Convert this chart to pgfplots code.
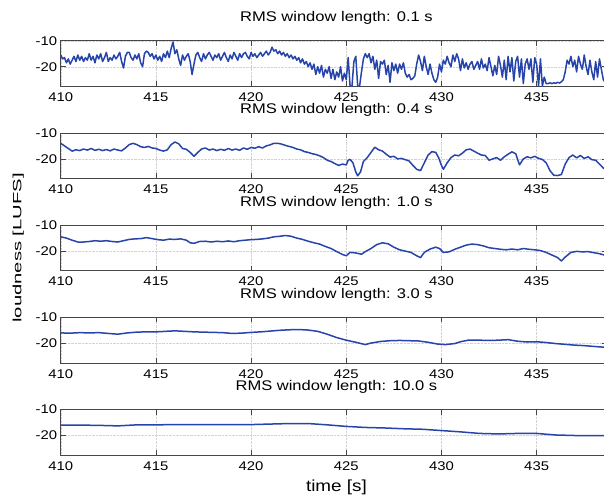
\documentclass[border=0pt]{standalone}
\usepackage{fontspec}
\setmainfont{Liberation Sans}[FakeStretch=1.18]
\usepackage{graphicx}
\usepackage{pgfplots}
\pgfplotsset{compat=1.18}

\definecolor{lineblue}{RGB}{38,68,170}
\definecolor{axgray}{RGB}{70,70,70}

\pgfplotsset{
  panel/.style={
    scale only axis, width=546pt, height=45.5pt, anchor=south west,
    xmin=410, xmax=438.68, ymin=-27.5, ymax=-10,
    xtick={410,415,...,435}, ytick={-20,-10}, yticklabels={-20,-10},
    tick align=inside, major tick length=5pt,
    grid=major, major grid style={densely dotted, gray!35, line width=0.4pt},
    axis line style={axgray, line width=0.6pt}, every tick/.style={axgray, line width=0.6pt},
    tick label style={font=\fontsize{12.6}{14}\selectfont},
    /pgf/number format/assume math mode=true,
    xticklabel style={yshift=-3pt},
    title style={at={(axis description cs:0.505,1)}, anchor=base, yshift=13pt,
      font=\fontsize{14}{16}\selectfont},
  },
  curve/.style={lineblue, line width=1.5pt, line join=round, mark=none},
}

\begin{document}
\begin{tikzpicture}

% 0.1 s
\begin{axis}[panel, at={(60.7pt,-86.2pt)}, title={RMS window length: 0.1 s}]
\addplot[curve] coordinates {
(410.0,-15.5) (410.1,-17) (410.2,-16.5) (410.3,-18.5) (410.4,-17) (410.5,-19) (410.6,-17.5) (410.7,-16) (410.8,-18) (410.9,-15.5)
(411.0,-17.5) (411.1,-16) (411.2,-18) (411.3,-16.5) (411.4,-17.5) (411.5,-15) (411.6,-17.5) (411.7,-16) (411.8,-18.5) (411.9,-15.5)
(412.0,-17) (412.1,-15) (412.2,-18) (412.3,-16.5) (412.4,-14.5) (412.5,-18) (412.6,-16.5) (412.7,-17.5) (412.8,-15.5) (412.9,-17)
(413.0,-16) (413.1,-14.5) (413.2,-18) (413.3,-20.5) (413.4,-16) (413.5,-14.5) (413.6,-14.5) (413.7,-16.5) (413.8,-17.5) (413.9,-15.5)
(414.0,-17) (414.1,-15) (414.2,-18.5) (414.3,-20) (414.4,-15) (414.5,-14) (414.6,-14.5) (414.7,-16) (414.8,-15) (414.9,-17)
(415.0,-15.5) (415.1,-17.5) (415.2,-16) (415.3,-18) (415.4,-15) (415.5,-16.5) (415.6,-14) (415.7,-16.5) (415.8,-13) (415.9,-10.5)
(416.0,-15) (416.1,-13.5) (416.2,-17) (416.3,-19.5) (416.4,-15.5) (416.5,-17.5) (416.6,-16) (416.7,-15) (416.8,-18) (416.9,-23)
(417.0,-19) (417.1,-15.5) (417.2,-14.5) (417.3,-16.5) (417.4,-18) (417.5,-15) (417.6,-17) (417.7,-15.5) (417.8,-14.5) (417.9,-16)
(418.0,-17.5) (418.1,-15.5) (418.2,-16.5) (418.3,-15) (418.4,-17.5) (418.5,-16) (418.6,-14.5) (418.7,-16.5) (418.8,-18) (418.9,-15.5)
(419.0,-17) (419.1,-14.5) (419.2,-16) (419.3,-17.5) (419.4,-15) (419.5,-16.5) (419.6,-15) (419.7,-14.5) (419.8,-16) (419.9,-17)
(420.0,-14.5) (420.1,-16) (420.2,-15) (420.3,-16.5) (420.4,-15.5) (420.5,-14.5) (420.6,-16) (420.7,-15) (420.8,-14) (420.9,-15.5)
(421.0,-14.5) (421.1,-12.5) (421.2,-14) (421.3,-13.5) (421.4,-15) (421.5,-14) (421.6,-15.5) (421.7,-14.5) (421.8,-16) (421.9,-15)
(422.0,-16.5) (422.1,-15.5) (422.2,-17) (422.3,-16) (422.4,-17.5) (422.5,-16.5) (422.6,-18.5) (422.7,-17) (422.8,-19) (422.9,-18)
(423.0,-20) (423.1,-18.5) (423.2,-21) (423.3,-19) (423.4,-23) (423.5,-20) (423.6,-22.5) (423.7,-19.5) (423.8,-24) (423.9,-21)
(424.0,-22.5) (424.1,-20) (424.2,-24.5) (424.3,-21) (424.4,-25) (424.5,-22) (424.6,-24) (424.7,-20) (424.8,-25.5) (424.9,-22.5)
(425.0,-25) (425.1,-16.5) (425.2,-27.5) (425.3,-27.5) (425.4,-18) (425.5,-16) (425.6,-27.5) (425.7,-27.5) (425.8,-22) (425.9,-17)
(426.0,-15) (426.1,-16.5) (426.2,-15) (426.3,-18.5) (426.4,-16) (426.5,-21) (426.6,-17.5) (426.7,-24.5) (426.8,-18) (426.9,-19)
(427.0,-17.5) (427.1,-23) (427.2,-19.5) (427.3,-26) (427.4,-18.5) (427.5,-21.5) (427.6,-19) (427.7,-22.5) (427.8,-19) (427.9,-21)
(428.0,-18.5) (428.1,-22.5) (428.2,-24) (428.3,-23) (428.4,-25) (428.5,-24.5) (428.6,-23.5) (428.7,-19) (428.8,-15.5) (428.9,-18)
(429.0,-21.5) (429.1,-16) (429.2,-20) (429.3,-23) (429.4,-19) (429.5,-22.5) (429.6,-25) (429.7,-26) (429.8,-24) (429.9,-19)
(430.0,-22) (430.1,-17.5) (430.2,-19) (430.3,-16) (430.4,-18.5) (430.5,-20) (430.6,-15.5) (430.7,-18) (430.8,-15) (430.9,-17)
(431.0,-21.5) (431.1,-17) (431.2,-20.5) (431.3,-18.5) (431.4,-21) (431.5,-19) (431.6,-18) (431.7,-21) (431.8,-19.5) (431.9,-18)
(432.0,-21) (432.1,-17) (432.2,-20.5) (432.3,-19) (432.4,-21.5) (432.5,-16.5) (432.6,-20) (432.7,-23.5) (432.8,-19.5) (432.9,-23)
(433.0,-16) (433.1,-19.5) (433.2,-24) (433.3,-17.5) (433.4,-25) (433.5,-16) (433.6,-22) (433.7,-16.5) (433.8,-25.5) (433.9,-18)
(434.0,-16) (434.1,-24) (434.2,-17) (434.3,-26.5) (434.4,-19) (434.5,-17) (434.6,-21) (434.7,-17) (434.8,-26) (434.9,-16.5)
(435.0,-19) (435.1,-27.5) (435.2,-17) (435.3,-27.5) (435.4,-24) (435.5,-26.5) (435.6,-26.5) (435.7,-26.2) (435.8,-26.5) (435.9,-26.2)
(436.0,-26.4) (436.1,-26) (436.2,-26.3) (436.3,-25.8) (436.4,-25) (436.5,-22) (436.6,-17.5) (436.7,-19) (436.8,-16) (436.9,-20)
(437.0,-17.5) (437.1,-22) (437.2,-16) (437.3,-19) (437.4,-21) (437.5,-15.5) (437.6,-20) (437.7,-23) (437.8,-17.5) (437.9,-22)
(438.0,-25) (438.1,-18) (438.2,-24) (438.3,-17) (438.4,-21) (438.5,-25) (438.6,-26) (438.7,-26.5)
};
\end{axis}

% 0.4 s
\begin{axis}[panel, at={(60.7pt,-178.4pt)}, title={RMS window length: 0.4 s}]
\addplot[curve] coordinates {
(410.0,-14) (410.2,-15) (410.4,-16) (410.6,-17) (410.8,-16.5) (411.0,-16.8) (411.2,-16.2) (411.4,-16.6) (411.6,-16) (411.8,-16.7)
(412.0,-16.3) (412.2,-16.8) (412.4,-16.4) (412.6,-16.9) (412.8,-16.2) (413.0,-16.6) (413.2,-16.9) (413.4,-15.8) (413.6,-14.5) (413.8,-14)
(414.0,-14.5) (414.2,-15.3) (414.4,-15.6) (414.6,-15.2) (414.8,-15.8) (415.0,-16) (415.2,-16.6) (415.4,-17) (415.6,-16.5) (415.8,-14.5)
(416.0,-13.5) (416.2,-14.2) (416.4,-16) (416.6,-16.3) (416.8,-17.5) (417.0,-19) (417.2,-17.5) (417.4,-16.2) (417.6,-15.8) (417.8,-16.6)
(418.0,-16.2) (418.2,-16.8) (418.4,-16.3) (418.6,-16.7) (418.8,-16) (419.0,-16.6) (419.2,-16.2) (419.4,-16.7) (419.6,-15.8) (419.8,-16.3)
(420.0,-15.6) (420.2,-15.9) (420.4,-15.3) (420.6,-15.8) (420.8,-15) (421.0,-14.6) (421.2,-14) (421.4,-14) (421.6,-14.3) (421.8,-14.8)
(422.0,-15.2) (422.2,-15.6) (422.4,-16.2) (422.6,-16.5) (422.8,-17.2) (423.0,-17.5) (423.2,-18) (423.4,-18.3) (423.6,-18.8) (423.8,-19.5)
(424.0,-20.5) (424.2,-21) (424.4,-21.8) (424.6,-22.5) (424.8,-22) (425.0,-22.3) (425.1,-20.5) (425.2,-20.2) (425.35,-21.5) (425.5,-25)
(425.6,-26.5) (425.75,-25) (425.9,-21) (426.1,-19.5) (426.3,-17.5) (426.5,-15.5) (426.7,-16.5) (426.9,-17) (427.1,-18.2) (427.3,-19.3)
(427.5,-19) (427.7,-20) (427.9,-19.8) (428.1,-20.3) (428.3,-20.8) (428.5,-22.5) (428.7,-24) (428.9,-24.5) (429.1,-21.5) (429.3,-18.5)
(429.5,-17.2) (429.7,-17.5) (429.85,-19.5) (430.0,-22.5) (430.1,-24) (430.3,-21.5) (430.5,-19.5) (430.7,-18.5) (430.9,-18.8) (431.1,-17.8)
(431.3,-16.5) (431.5,-16.2) (431.7,-17) (431.9,-17.8) (432.1,-18.5) (432.3,-18.7) (432.5,-20.5) (432.7,-20) (432.9,-19.5) (433.1,-20.5)
(433.3,-19.2) (433.5,-18.2) (433.7,-17.3) (433.9,-18) (434.1,-22.3) (434.3,-20) (434.5,-19.2) (434.7,-19.6) (434.9,-19) (435.1,-19.8)
(435.3,-20.2) (435.5,-21.5) (435.7,-24.5) (435.9,-26.3) (436.1,-26.4) (436.3,-26) (436.5,-22) (436.7,-19.5) (436.9,-18.5) (437.1,-19.6)
(437.3,-18.7) (437.5,-19.8) (437.7,-19.2) (437.9,-20.3) (438.1,-20.5) (438.3,-22) (438.5,-23.5) (438.7,-24.5)
};
\end{axis}

% 1.0 s
\begin{axis}[panel, at={(60.7pt,-270.6pt)}, title={RMS window length: 1.0 s},
  ylabel={\scalebox{1.43}[1]{loudness [LUFS]}},
  ylabel style={at={(axis description cs:-0.0777,0.5)}, anchor=center,
    font=\fontsize{12}{14}\selectfont}]
\addplot[curve] coordinates {
(410.0,-14.5) (410.3,-15) (410.6,-15.8) (410.9,-16.5) (411.2,-16.5) (411.5,-16.3) (411.8,-16) (412.1,-16.2) (412.4,-16) (412.7,-16.3)
(413.0,-16.5) (413.3,-16) (413.6,-15.5) (413.9,-15.3) (414.2,-15.2) (414.5,-14.8) (414.8,-15.2) (415.1,-15.6) (415.4,-15.8) (415.7,-15.4)
(416.0,-15.5) (416.3,-15.3) (416.6,-15.8) (416.8,-16.8) (417.0,-17) (417.3,-16.3) (417.6,-16.2) (417.9,-16.5) (418.2,-16.2) (418.5,-16.4)
(418.8,-16.1) (419.1,-16.4) (419.4,-16) (419.7,-15.8) (420.0,-15.6) (420.3,-15.5) (420.6,-15.3) (420.9,-15) (421.2,-14.5) (421.5,-14.3)
(421.8,-14) (422.1,-14.3) (422.4,-15) (422.7,-15.5) (423.0,-16.2) (423.3,-16.8) (423.6,-17.3) (423.9,-18.2) (424.2,-19) (424.5,-20.2)
(424.8,-21.3) (425.0,-21.8) (425.2,-20.5) (425.5,-20.7) (425.8,-21.2) (426.0,-20.2) (426.3,-19) (426.6,-17.5) (426.9,-16.8) (427.2,-17.2)
(427.5,-18.5) (427.8,-19.5) (428.1,-20) (428.4,-20.5) (428.7,-21.8) (428.9,-22.5) (429.1,-20.5) (429.4,-19.2) (429.7,-18.5) (429.9,-19)
(430.1,-20.5) (430.4,-20.3) (430.7,-19.3) (431.0,-18.5) (431.3,-17.7) (431.6,-17.3) (431.9,-17.5) (432.2,-18) (432.5,-18.7) (432.8,-19)
(433.1,-19.3) (433.4,-19.5) (433.7,-19.2) (434.0,-19.5) (434.3,-19) (434.6,-19.3) (434.9,-19.5) (435.2,-19.8) (435.5,-20.5) (435.8,-21.5)
(436.1,-22.5) (436.3,-23.8) (436.5,-22.3) (436.8,-20.5) (437.1,-20.1) (437.4,-20.3) (437.7,-20.2) (438.0,-20.6) (438.3,-21) (438.7,-21.8)
};
\end{axis}

% 3.0 s
\begin{axis}[panel, at={(60.7pt,-362.8pt)}, title={RMS window length: 3.0 s}]
\addplot[curve] coordinates {
(410.0,-16) (410.5,-16.1) (411.0,-15.9) (411.5,-16) (412.0,-15.9) (412.5,-16.2) (413.0,-16.5) (413.5,-16) (414.0,-15.7) (414.5,-15.6)
(415.0,-15.6) (415.5,-15.4) (416.0,-15.2) (416.5,-15.4) (417.0,-15.6) (417.5,-15.7) (418.0,-15.8) (418.5,-15.9) (419.0,-16.2) (419.5,-16.1)
(420.0,-15.8) (420.5,-15.6) (421.0,-15.3) (421.5,-15) (422.0,-14.8) (422.5,-14.7) (423.0,-14.9) (423.5,-15.4) (424.0,-16.5) (424.5,-17.8)
(425.0,-18.8) (425.5,-19.6) (426.0,-20.5) (426.3,-19.9) (426.8,-19.3) (427.3,-19) (427.8,-18.9) (428.3,-19) (428.8,-19.1) (429.3,-19.6)
(429.8,-20.3) (430.2,-20.5) (430.7,-20.1) (431.0,-19.4) (431.4,-18.8) (432.0,-18.8) (432.5,-18.9) (433.0,-18.8) (433.5,-18.6) (434.0,-19.2)
(434.5,-19.5) (435.0,-19.4) (435.5,-19.7) (436.0,-20.1) (436.5,-20.4) (437.0,-20.7) (437.5,-20.9) (438.0,-21.2) (438.7,-21.6)
};
\end{axis}

% 10.0 s
\begin{axis}[panel, at={(60.7pt,-455pt)}, title={RMS window length: 10.0 s},
  xlabel={time [s]},
  xlabel style={at={(axis description cs:0.505,0)}, anchor=base, yshift=-36pt,
    font=\fontsize{16}{18}\selectfont}]
\addplot[curve] coordinates {
(410,-16) (411,-16) (412,-16.1) (413,-16.3) (414,-15.9) (415,-15.9) (416,-15.8) (417,-15.8) (418,-15.8) (419,-15.8)
(420,-15.8) (421,-15.6) (422,-15.4) (423,-15.4) (424,-15.9) (425,-16.5) (426,-16.9) (427,-17.1) (428,-17.4) (429,-17.6)
(430,-18.1) (431,-18.6) (432,-19.2) (433,-19.4) (434,-19.2) (435,-19.2) (436,-19.8) (437,-20) (438,-20) (438.7,-20)
};
\end{axis}

\pgfresetboundingbox
\useasboundingbox (0pt,0pt) rectangle (604pt,-495pt);
\end{tikzpicture}
\end{document}
